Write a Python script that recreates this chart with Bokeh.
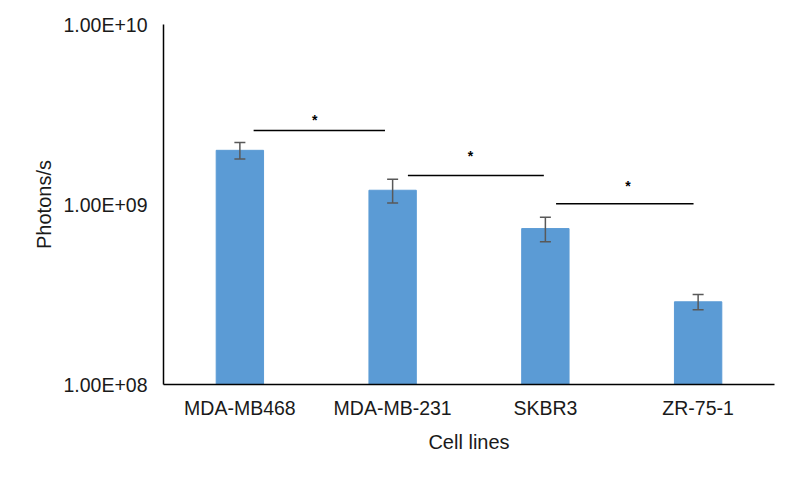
from bokeh.plotting import figure
from bokeh.models import ColumnDataSource, Range1d, FixedTicker, CustomJSTickFormatter
from bokeh.embed import file_html
from bokeh.resources import INLINE
from bokeh.core.properties import value

# ---- data ----
categories = ["MDA-MB468", "MDA-MB-231", "SKBR3", "ZR-75-1"]
photons = [2.0e9, 1.20e9, 7.35e8, 2.88e8]
errors = [2.1e8, 1.8e8, 1.15e8, 2.8e7]
y_tick_values = [1e8, 1e9, 1e10]
y_tick_labels = ["1.00E+08", "1.00E+09", "1.00E+10"]
# significance brackets: category-axis start/end, height; star position
sig_x0 = [0.59, 1.60, 2.57]
sig_x1 = [1.45, 2.49, 3.47]
sig_y = [2.58e9, 1.45e9, 1.01e9]
sig_star_x = [0.99, 2.01, 3.04]
sig_star_y = [2.93e9, 1.87e9, 1.26e9]
sig_label = ["*", "*", "*"]

FONT = "Liberation Sans"
TEXT = "#1a1a1a"
ERR = "#595959"

xs = [i + 0.5 for i in range(len(categories))]
src = ColumnDataSource(dict(
    x=xs, top=photons,
    upper=[v + e for v, e in zip(photons, errors)],
    lower=[v - e for v, e in zip(photons, errors)],
))

p = figure(width=784, height=463, y_axis_type="log",
           x_range=Range1d(0, len(categories)), y_range=Range1d(1e8, 1e10),
           output_backend="svg", toolbar_location=None,
           min_border_left=163, min_border_right=10, min_border_top=24, min_border_bottom=79)
p.outline_line_color = None
p.xgrid.visible = False
p.ygrid.visible = False
p.background_fill_color = "white"
p.border_fill_color = "white"

p.vbar(x="x", top="top", bottom=1e8, width=0.31, source=src,
       fill_color="#5B9BD5", line_color="#5B9BD5")

# error bars
p.segment(x0="x", x1="x", y0="lower", y1="upper", source=src, line_color=ERR, line_width=1.5)
p.scatter(x="x", y="upper", source=src, marker="dash", size=11, line_color=ERR, line_width=1.5)
p.scatter(x="x", y="lower", source=src, marker="dash", size=11, line_color=ERR, line_width=1.5)

# significance brackets
p.segment(x0=sig_x0, x1=sig_x1, y0=sig_y, y1=sig_y, line_color="black", line_width=1.5)
p.text(x=sig_star_x, y=sig_star_y, text=sig_label,
       text_align="center", text_baseline="middle", text_font=value(FONT),
       text_font_size="14px", text_font_style="bold", text_color="black")

# x axis
p.xaxis.ticker = FixedTicker(ticks=xs)
p.xaxis.major_label_overrides = {x: c for x, c in zip(xs, categories)}
p.xaxis.axis_label = "Cell lines"
# y axis
p.yaxis.ticker = FixedTicker(ticks=y_tick_values)
p.yaxis.formatter = CustomJSTickFormatter(args=dict(vals=y_tick_values, labs=y_tick_labels), code="""
const i = vals.findIndex(v => Math.abs(Math.log10(v) - Math.log10(tick)) < 1e-6);
return i >= 0 ? labs[i] : '';
""")
p.yaxis.axis_label = "Photons/s"

for ax in (p.xaxis[0], p.yaxis[0]):
    ax.axis_line_color = "black"
    ax.axis_line_width = 1.5
    ax.major_tick_line_color = None
    ax.minor_tick_line_color = None
    ax.major_tick_out = 0
    ax.major_tick_in = 0
    ax.minor_tick_out = 0
    ax.minor_tick_in = 0
    ax.major_label_text_font = FONT
    ax.major_label_text_font_size = "19.5px"
    ax.major_label_text_color = TEXT
    ax.axis_label_text_font = FONT
    ax.axis_label_text_font_size = "20px"
    ax.axis_label_text_font_style = "normal"
    ax.axis_label_text_color = TEXT

p.xaxis.major_label_standoff = 12
p.xaxis.axis_label_standoff = 9
p.yaxis.major_label_standoff = 16
p.yaxis.axis_label_standoff = 5

open("out.html", "w").write(file_html(p, INLINE))
